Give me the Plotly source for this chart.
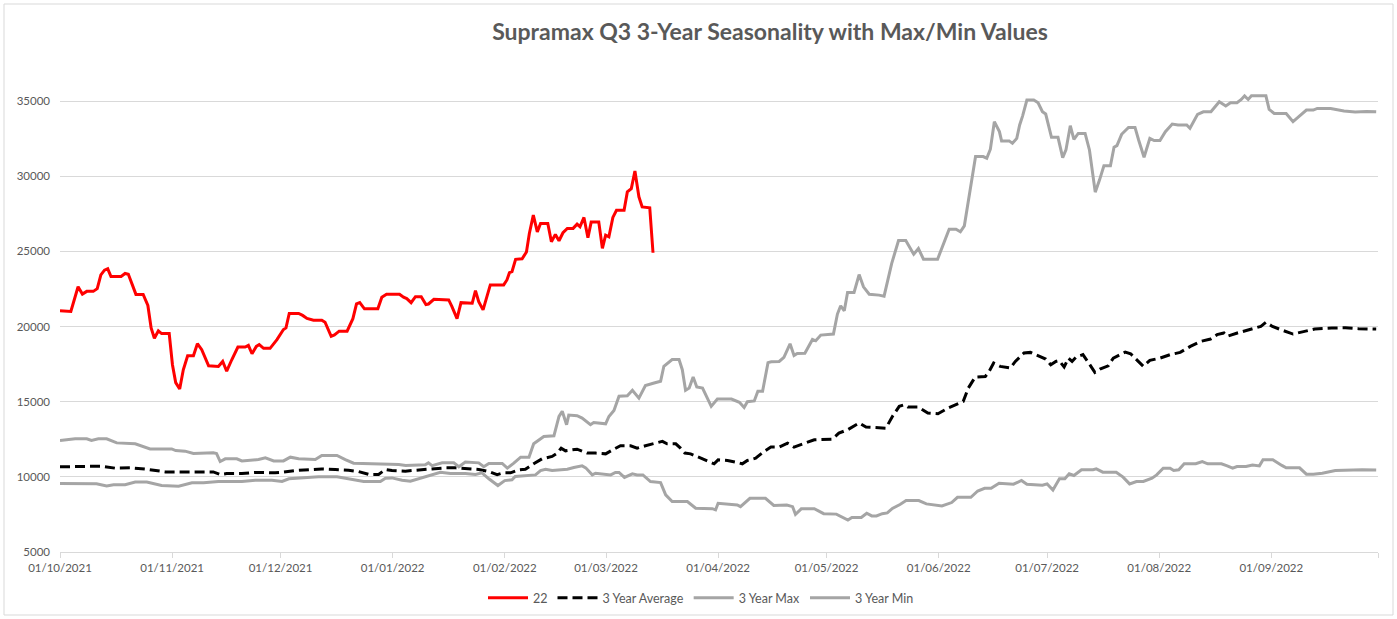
import pandas as pd
import plotly.graph_objects as go

# Days since 01/10/2021 and values
red_days = [0, 3, 5, 6.2, 7.4, 9.2, 10.3, 11.3, 12.3, 13.2, 14.1, 16.9, 18, 18.9, 21, 23, 24.3, 25.2, 26.1, 27.2,
            28.1, 30.2, 31.1, 32, 33.1, 34.1, 35.3, 36.9, 38, 39.2, 41.1, 43.8, 45, 46.1, 47.5, 49.2, 51.2, 52.1,
            53.1, 54.3, 55.1, 56.3, 58.1, 60, 61.8, 62.5, 63.4, 66, 67.1, 68.3, 70.1, 72.4, 73.3, 75, 75.9, 77.2,
            79.4, 81, 82, 82.9, 84.2, 87.9, 89, 90.3, 93.9, 95, 95.9, 97.1, 98.3, 99.9, 101.2, 101.9, 103.4,
            107.5, 108.4, 109.8, 110.9, 114, 114.9, 115.8, 117, 119, 122.7, 123.6, 124.3, 125, 126, 127.8, 129,
            129.8, 130.9, 132, 132.9, 134.9, 135.9, 137, 138, 139.1, 140.3, 141.9, 143, 143.8, 144.9, 146, 146.9,
            149, 150, 150.9, 151.8, 152.9, 153.9, 156, 156.9, 158, 159, 160.1, 161, 163.1, 164]
red_vals = [21050, 21000, 22650, 22160, 22340, 22340, 22520, 23440, 23750, 23840, 23330, 23330, 23530, 23480,
            22140, 22140, 21400, 19910, 19220, 19710, 19530, 19530, 17460, 16270, 15850, 17120, 18060, 18060,
            18860, 18460, 17390, 17340, 17680, 17030, 17790, 18640, 18640, 18750, 18190, 18680, 18800, 18550,
            18550, 19130, 19800, 19910, 20870, 20870, 20740, 20540, 20420, 20420, 20290, 19350, 19440, 19690,
            19690, 20520, 21505, 21590, 21180, 21180, 21950, 22150, 22150, 21950, 21860, 21590, 21990, 21990,
            21460, 21500, 21810, 21770, 21330, 20530, 21590, 21550, 22390, 21660, 21110, 22770, 22770, 23100,
            23580, 23650, 24470, 24510, 24960, 26190, 27410, 26300, 26860, 26860, 25640, 26130, 25710, 26240,
            26530, 26530, 26810, 26640, 27260, 25910, 26950, 26950, 25200, 26080, 25970, 27260, 27740, 27740,
            28960, 29180, 30350, 28630, 27960, 27900, 24910]

max_days = [0, 4.2, 7.4, 8.7, 10.6, 12.9, 15.7, 20.8, 24.9, 30.9, 32, 34.6, 36.9, 42.4, 43.3, 44.3, 45.7, 48.9,
            50.3, 52, 54.9, 56.8, 59.1, 61.8, 63.7, 66, 70.6, 72.4, 76.6, 78.9, 81.2, 93.7, 95.6, 101, 101.9,
            102.9, 105.7, 108.9, 110.3, 112.1, 115.8, 117.2, 118.6, 122.3, 123.7, 125.5, 127.4, 129.7, 131,
            133.8, 136.6, 138, 138.9, 140.1, 140.7, 143, 144.4, 146.7, 147.6, 150.9, 151.8, 153.2, 154.6, 156.9,
            158.3, 160.1, 161.9, 164.3, 166.1, 167, 169.3, 171.2, 172.1, 173, 174, 175.1, 176.1, 177.7, 180.1,
            181.8, 185.7, 187.9, 189.2, 190.1, 192, 193, 194.3, 195.8, 196.7, 198.9, 200.2, 201.9, 203, 203.9,
            206, 208.1, 209, 210.4, 213.9, 215, 215.9, 216.9, 217.8, 219.6, 221, 222.2, 223.8, 226.5, 227.9,
            230, 231.9, 233.9, 236.1, 237.4, 238.8, 242.7, 244.1, 245.9, 247.8, 249, 250.1, 253.2, 255.3,
            256.3, 257.3, 258.4, 259.8, 260.4, 262.5, 263.4, 264.6, 265.4, 266.2, 267.4, 269.3, 270.5, 271.7,
            272.6, 274.2, 276, 277.3, 278.2, 279.4, 280.4, 281.6, 283.5, 284.7, 286.3, 287.5, 288.7, 290.5,
            291.5, 292.3, 293.6, 295.5, 297.3, 298.3, 299.8, 301.4, 302.6, 304.2, 305.7, 307.6, 309.2, 311.6,
            312.5, 314.6, 316.2, 318.3, 320.6, 322.4, 323.7, 325.5, 326.7, 327.6, 328.6, 329.5, 333.5, 334.4,
            335.8, 339.1, 341, 342.6, 344.7, 346.6, 347.7, 351.4, 353.9, 355.1, 358.2, 361.3, 364]
max_vals = [12420, 12530, 12530, 12420, 12530, 12530, 12260, 12200, 11860, 11860, 11750, 11710, 11550, 11600,
            11550, 11020, 11200, 11200, 11060, 11110, 11150, 11260, 11060, 11060, 11310, 11200, 11150, 11420,
            11420, 11150, 10910, 10820, 10750, 10800, 10930, 10750, 10930, 10930, 10670, 10980, 10930, 10670,
            10890, 10890, 10580, 10910, 11310, 11310, 12200, 12690, 12730, 14020, 14360, 13470, 14110, 14070,
            13910, 13470, 13620, 13530, 14020, 14420, 15360, 15400, 15760, 15240, 16070, 16240, 16360, 17360,
            17800, 17800, 17130, 15760, 15910, 16640, 15980, 15910, 14690, 15180, 15180, 14960, 14620, 15000,
            15050, 15700, 15700, 17600, 17660, 17680, 17950, 18850, 18080, 18210, 18220, 19140, 19050, 19430,
            19500, 20830, 21380, 21050, 22270, 22270, 23460, 22640, 22150, 22090, 22020, 24190, 25720, 25720,
            24810, 25190, 24480, 24480, 25410, 26470, 26470, 26300, 26700, 31310, 31310, 31200, 31800, 33630,
            32970, 32350, 32350, 32190, 32520, 33410, 34000, 35070, 35070, 34890, 34290, 34140, 32590, 32590,
            31240, 31750, 33360, 32460, 32850, 32850, 31750, 28940, 29760, 30690, 30690, 31930, 32040, 32790,
            33250, 33250, 32410, 31260, 32520, 32370, 32370, 32960, 33470, 33410, 33410, 33190, 34120, 34290,
            34290, 34960, 34670, 34890, 34890, 35110, 35350, 35110, 35350, 35350, 34450, 34180, 34180, 33630,
            33960, 34400, 34400, 34510, 34510, 34400, 34340, 34270, 34310, 34290]

min_days = [0, 7.8, 10.1, 12.9, 14.8, 18, 20.8, 24, 28.1, 32.8, 36.5, 39.7, 43.8, 50.3, 54, 58.6, 61.4, 63.3,
            66.9, 71.5, 76.6, 78.9, 84, 88.6, 90, 91.8, 94.6, 96.9, 99.2, 101, 103.4, 105.2, 108, 112.1, 114.9,
            116.7, 118.6, 121.1, 123, 125, 125.9, 128.2, 131.5, 132.9, 134.3, 136.1, 140.3, 142.1, 144.4, 145.4,
            147.2, 148.1, 152.3, 153.6, 154.6, 156.1, 158.3, 159.6, 161.2, 163.3, 166.1, 167.5, 169.3, 173.5,
            175.8, 180.4, 181.3, 182, 184.6, 187.3, 188.2, 189.9, 190.8, 195.1, 197.4, 201, 202.6, 203.4, 205,
            208.6, 211.2, 214.7, 216.4, 217.9, 219, 221.6, 223.1, 224.5, 225.8, 227.4, 228.8, 230.2, 232.3, 234,
            237.5, 239.6, 243.9, 246.6, 248.2, 251.9, 253.8, 255.7, 257.5, 259.7, 263.7, 265.9, 267.4, 271.7,
            273, 274.6, 276.4, 277.9, 279.1, 280.4, 282.5, 285.7, 286.6, 288.4, 292.1, 294, 295.8, 297.7, 299.6,
            302, 303.3, 305.1, 307, 308, 309.4, 310.9, 314.1, 315.9, 317.4, 321.2, 322.8, 324.3, 325.5, 328,
            329.8, 331.7, 332.7, 335.4, 337.9, 339.1, 342.8, 344.7, 346.6, 349.1, 352.7, 355.1, 358.2, 360.1, 364]
min_vals = [9560, 9560, 9540, 9400, 9470, 9470, 9650, 9650, 9420, 9380, 9600, 9600, 9690, 9690, 9780, 9780,
            9690, 9870, 9930, 10000, 10000, 9910, 9690, 9690, 9910, 9930, 9780, 9710, 9870, 10000, 10160, 10310,
            10220, 10220, 10160, 10270, 9870, 9420, 9750, 9800, 10020, 10070, 10130, 10420, 10510, 10420, 10510,
            10620, 10730, 10600, 10130, 10240, 10130, 10290, 10290, 9960, 10200, 10130, 10130, 9690, 9620, 8800,
            8360, 8360, 7910, 7880, 7800, 8240, 8200, 8130, 8020, 8400, 8570, 8570, 8100, 8130, 8020, 7500, 7870,
            7880, 7550, 7520, 7310, 7130, 7300, 7300, 7580, 7400, 7400, 7550, 7600, 7900, 8160, 8420, 8420, 8200,
            8060, 8290, 8640, 8640, 9060, 9240, 9240, 9580, 9510, 9760, 9510, 9440, 9530, 9130, 9870, 9870,
            10200, 10090, 10470, 10470, 10530, 10310, 10310, 9980, 9530, 9690, 9690, 9910, 10130, 10580, 10580,
            10420, 10470, 10870, 10870, 11020, 10870, 10870, 10730, 10580, 10690, 10690, 10780, 10730, 11140,
            11140, 10760, 10600, 10600, 10180, 10180, 10240, 10420, 10450, 10450, 10470, 10450]

avg_days = [0, 6, 11.5, 15.2, 19.8, 24.5, 29.1, 34.6, 39.2, 42.4, 44.3, 46.1, 50.3, 54, 59.5, 61.4, 65.1, 69.7,
            72.4, 76.1, 79.8, 82.6, 85.4, 88.1, 90, 91.8, 95.5, 98.3, 101, 103.8, 106.6, 109.4, 113, 115.8,
            118.6, 120.9, 122.7, 124.6, 126.9, 128.7, 131, 133.3, 136.1, 137.5, 138.6, 139.8, 143, 145.8, 148.1,
            150.9, 153.2, 155, 157.8, 159.6, 161.9, 164.3, 166.6, 167.9, 170.3, 171.6, 172.8, 174.4, 176.7, 179,
            180.9, 182, 184.6, 187.3, 188.7, 190.1, 192.4, 194.7, 196.6, 198.9, 201.2, 203, 205.3, 208.6, 213.6,
            215.4, 217.8, 221, 222.9, 227, 228.4, 230.2, 232.1, 233.5, 234.5, 237.3, 240, 242.8, 245.6, 249.8,
            251.2, 253.1, 255.9, 256.8, 258.2, 260, 262.8, 264.2, 266.6, 268.4, 270.7, 272.6, 274, 275.4, 276.3,
            277.7, 278.9, 279.9, 281, 282.9, 284.2, 286.2, 287.6, 289.9, 291.3, 294.6, 296.1, 297.7, 299.6,
            301.4, 304.2, 307, 309.8, 312.6, 315.4, 318.2, 320, 321.9, 322.8, 325.6, 329.3, 332.1, 333.5, 335.3,
            338.2, 341, 343.3, 347, 351.7, 355.5, 359.1, 364]
avg_vals = [10670, 10710, 10710, 10580, 10600, 10490, 10330, 10330, 10310, 10330, 10160, 10220, 10220, 10290,
            10270, 10300, 10420, 10470, 10530, 10490, 10440, 10350, 10160, 10160, 10490, 10420, 10380, 10440,
            10490, 10550, 10600, 10600, 10550, 10490, 10350, 10150, 10270, 10270, 10470, 10510, 10870, 11200,
            11360, 11580, 11910, 11730, 11840, 11580, 11580, 11530, 11840, 12070, 12070, 11910, 12070, 12200,
            12360, 12200, 12200, 11910, 11580, 11530, 11310, 11090, 10870, 11130, 11090, 10960, 10870, 11090,
            11240, 11690, 11980, 11980, 12240, 11980, 12200, 12470, 12510, 12910, 13130, 13580, 13310, 13240,
            13240, 14020, 14690, 14800, 14650, 14650, 14250, 14200, 14580, 15020, 15910, 16640, 16680, 16950,
            17570, 17350, 17240, 17680, 18240, 18280, 18020, 17840, 17460, 17680, 17730, 17310, 17900, 17680,
            17970, 18130, 17680, 16950, 17170, 17390, 17900, 18300, 18190, 17790, 17350, 17750, 17900, 18130,
            18280, 18680, 19010, 19170, 19460, 19570, 19350, 19570, 19830, 20010, 20280, 20010, 19740, 19500,
            19630, 19830, 19900, 19920, 19860, 19830]

month_ticks = ["2021-10-01", "2021-11-01", "2021-12-01", "2022-01-01", "2022-02-01", "2022-03-01",
               "2022-04-01", "2022-05-01", "2022-06-01", "2022-07-01", "2022-08-01", "2022-09-01",
               "2022-09-30 12:00"]
month_labels = ["01/10/2021", "01/11/2021", "01/12/2021", "01/01/2022", "01/02/2022", "01/03/2022",
                "01/04/2022", "01/05/2022", "01/06/2022", "01/07/2022", "01/08/2022", "01/09/2022", ""]

start = pd.Timestamp("2021-10-01")


def to_dates(days):
    return [start + pd.to_timedelta(d, unit="D") for d in days]


FONT = "Lato, Open Sans, sans-serif"
GREY_TXT = "#595959"

fig = go.Figure()
fig.add_trace(go.Scatter(x=to_dates(red_days), y=red_vals, name="22", mode="lines",
                         line=dict(color="#FF0000", width=3)))
fig.add_trace(go.Scatter(x=to_dates(avg_days), y=avg_vals, name="3 Year Average", mode="lines",
                         line=dict(color="#000000", width=3, dash="10px,5px")))
fig.add_trace(go.Scatter(x=to_dates(max_days), y=max_vals, name="3 Year Max", mode="lines",
                         line=dict(color="#A5A5A5", width=3)))
fig.add_trace(go.Scatter(x=to_dates(min_days), y=min_vals, name="3 Year Min", mode="lines",
                         line=dict(color="#A5A5A5", width=3)))

W, H = 1397, 619
L, R, T, B = 60, 19, 56, 67
pw, ph = W - L - R, H - T - B

fig.update_layout(
    width=W, height=H,
    margin=dict(l=L, r=R, t=T, b=B, autoexpand=False),
    paper_bgcolor="white", plot_bgcolor="white",
    font=dict(family=FONT, color=GREY_TXT, size=12),
    title=dict(text="<b>Supramax Q3 3-Year Seasonality with Max/Min Values</b>",
               x=770 / W, xref="container", xanchor="center",
               y=1 - 32 / H, yref="container", yanchor="middle",
               font=dict(family=FONT, size=23, color=GREY_TXT)),
    showlegend=True,
    legend=dict(orientation="h", x=701 / W, xref="container", xanchor="center",
                y=1 - 598 / H, yref="container", yanchor="middle",
                font=dict(size=12.5, color=GREY_TXT),
                itemwidth=40, traceorder="normal"),
    xaxis=dict(type="date", range=[start, start + pd.Timedelta(days=364.5)],
               tickmode="array", tickvals=month_ticks, ticktext=month_labels,
               showgrid=False, showline=True, linecolor="#D9D9D9", linewidth=1,
               ticks="outside", ticklen=5, tickcolor="#D9D9D9",
               tickfont=dict(size=11.5, color=GREY_TXT), zeroline=False),
    yaxis=dict(range=[5000, 38000], tick0=5000, dtick=5000, showgrid=True,
               gridcolor="#D9D9D9", gridwidth=1, zeroline=False, showline=False,
               ticks="", ticklabelstandoff=9, tickformat="d",
               tickfont=dict(size=11.5, color=GREY_TXT)),
    shapes=[dict(type="rect", xref="paper", yref="paper",
                 x0=(4 - L) / pw, x1=(1393 - L) / pw,
                 y0=(H - B - 615) / ph, y1=(H - B - 4) / ph,
                 line=dict(color="#D9D9D9", width=1), fillcolor="rgba(0,0,0,0)", layer="below")],
)

fig.write_html("out.html", config={"displayModeBar": False},
               post_script="document.body.style.margin='0';")
